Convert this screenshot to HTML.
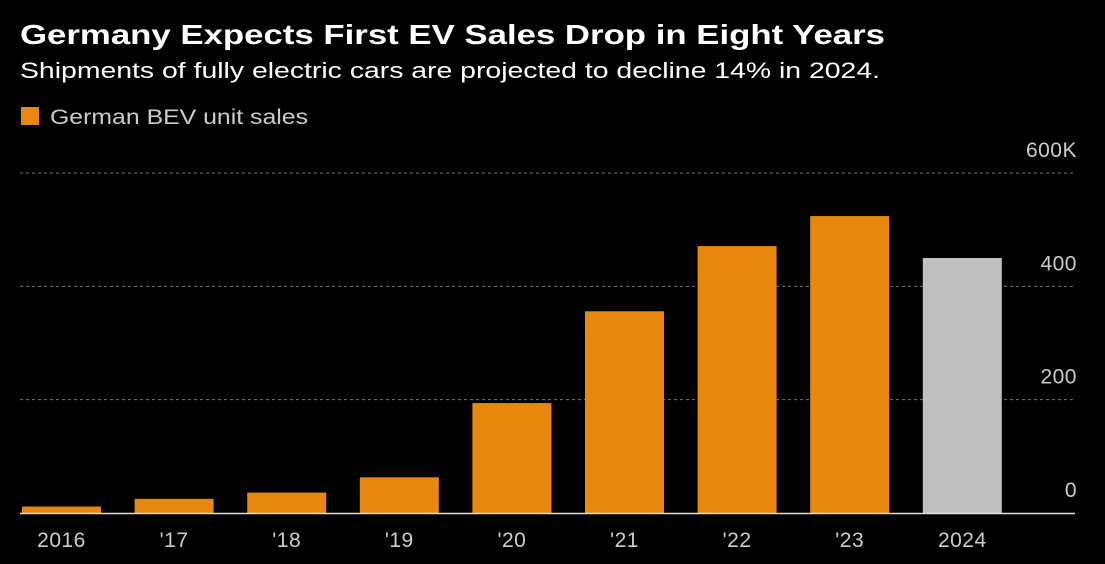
<!DOCTYPE html>
<html><head><meta charset="utf-8"><style>
body{margin:0;background:#000;width:1105px;height:564px;overflow:hidden;font-family:"Liberation Sans",sans-serif;color:#fff}
svg{position:absolute;left:0;top:0}
</style></head><body>
<svg width="1105" height="564">
<text x="20" y="44" font-size="28" font-weight="bold" fill="#fff" textLength="865" lengthAdjust="spacingAndGlyphs">Germany Expects First EV Sales Drop in Eight Years</text>
<text x="20" y="78" font-size="22" fill="#fff" textLength="860" lengthAdjust="spacingAndGlyphs">Shipments of fully electric cars are projected to decline 14% in 2024.</text>
<rect x="21" y="107" width="18" height="18" fill="#e8870e"/>
<text x="50" y="124" font-size="21" fill="#ccc" textLength="258" lengthAdjust="spacingAndGlyphs">German BEV unit sales</text>
<g id="grid"></g><g id="bars"></g><g id="labels"></g>
<line x1="20" x2="1075" y1="513.5" y2="513.5" stroke="#ddd" stroke-width="1.5"/>
</svg>
<script>
const categories=["2016","'17","'18","'19","'20","'21","'22","'23","2024"];
const sales=[11.4,25,36,63,194,356,471,524,450];
const projected=[false,false,false,false,false,false,false,false,true];
const ticks=[0,200,400,600];
const tickLabels=["0","200","400","600K"];
const NS="http://www.w3.org/2000/svg";
const y=v=>513-v*(340/600);
const x=i=>22+i*112.6;
const bw=79;
const g=document.getElementById('grid'),b=document.getElementById('bars'),l=document.getElementById('labels');
function mk(tag,attrs,parent){const e=document.createElementNS(NS,tag);for(const k in attrs)e.setAttribute(k,attrs[k]);parent.appendChild(e);return e;}
ticks.forEach((t,i)=>{
 if(t>0){const ln=mk('line',{x1:20,x2:1075,y1:y(t),y2:y(t),stroke:'#777','stroke-dasharray':'3,3'},g);
 
 }
 const tx=mk('text',{x:1077,y:y(t)-16,'font-size':21,fill:'#ccc','text-anchor':'end','letter-spacing':'0.5'},l);
 tx.textContent=tickLabels[i];
 
 
});
categories.forEach((c,i)=>{
 const r=mk('rect',{x:x(i),y:y(sales[i]),width:bw,height:513-y(sales[i]),fill:projected[i]?'#c0c0c0':'#e8870e'},b);
 
 
 const tx=mk('text',{x:x(i)+bw/2,y:547,'font-size':21,fill:'#ccc','text-anchor':'middle','letter-spacing':'0.5'},l);
 tx.textContent=c;
 
 
});
</script>
</body></html>
